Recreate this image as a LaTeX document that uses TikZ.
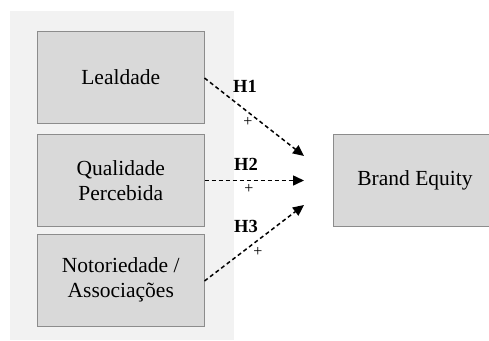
\documentclass[tikz,border=0pt]{standalone}
\usepackage{fontspec}
\setmainfont{Liberation Serif}
\usetikzlibrary{arrows.meta}
\definecolor{panelgray}{HTML}{F2F2F2}
\definecolor{boxgray}{HTML}{D9D9D9}
\definecolor{edgegray}{HTML}{8C8C8C}
\tikzset{
  construct/.style={draw=edgegray, fill=boxgray, line width=1pt, align=center,
    font=\fontsize{21.5}{25}\selectfont, inner sep=0pt,
    minimum height=91.5pt},
  hyp/.style={dash pattern=on 4pt off 3pt, line width=1.5pt,
    -{Triangle[length=11pt,width=10pt]}},
  hlabel/.style={font=\fontsize{18.5}{20}\selectfont\bfseries, inner sep=0pt},
  plus/.style={font=\fontsize{16}{18}\selectfont, inner sep=0pt}
}
\begin{document}
\begin{tikzpicture}[x=1pt,y=-1pt]
  \useasboundingbox (0,0) rectangle (489,340);
  % grey panel behind the three dimensions
  \fill[panelgray] (10,11) rectangle (234,340);
  % dimension boxes
  \node[construct, minimum width=166.5pt] (leal) at (120.75,77.25) {Lealdade};
  \node[construct, minimum width=166.5pt] (qual) at (120.75,180.25) {Qualidade\\Percebida};
  \node[construct, minimum width=166.5pt] (noto) at (120.75,280.25) {Notoriedade /\\Associações};
  % outcome box, cut by the right edge
  \node[construct, minimum width=158pt] (brand) at (412,180.25) {};
  \node[font=\fontsize{21.5}{25}\selectfont, inner sep=0pt] (brandtext) at (415,180.5) {Brand Equity};
  % arrow targets in front of the outcome box
  \coordinate (t1) at (304,156);
  \coordinate (t2) at (304,180.5);
  \coordinate (t3) at (304,205);
  \draw[hyp] (leal.east |- 0,78) -- (t1);
  \draw[hyp] (qual.east |- 0,180.5) -- (t2);
  \draw[hyp] (noto.east |- 0,281) -- (t3);
  % hypothesis labels
  \node[hlabel] (h1) at (245,86) {H1};
  \node[plus] (p1) at (248,122) {+};
  \node[hlabel] (h2) at (246,164) {H2};
  \node[plus] (p2) at (249,189) {+};
  \node[hlabel] (h3) at (246,226) {H3};
  \node[plus] (p3) at (258,252) {+};
\end{tikzpicture}
\end{document}
